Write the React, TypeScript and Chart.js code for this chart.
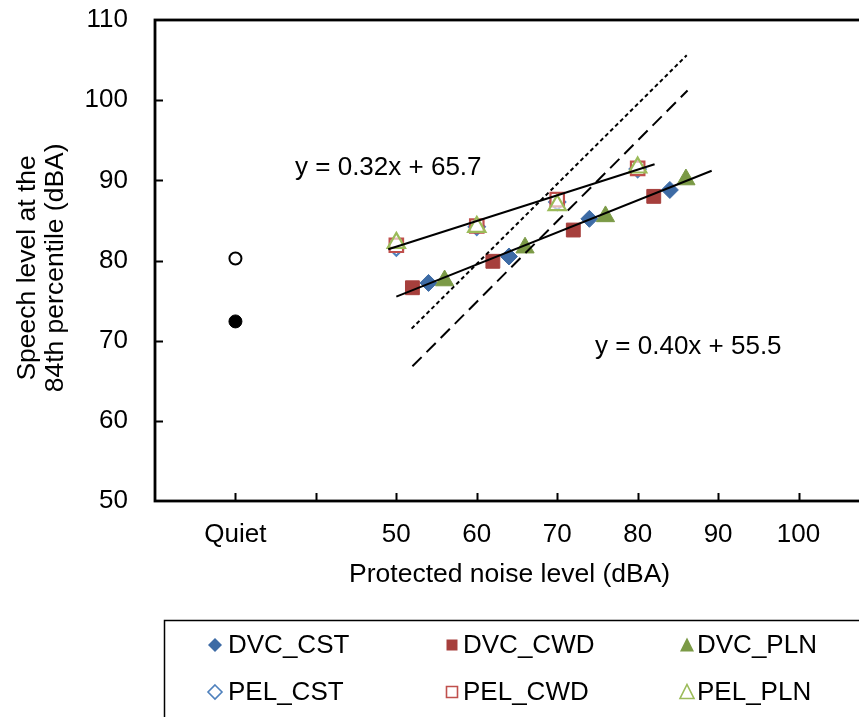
import React, { useEffect, useRef } from 'react';
import { Chart, registerables } from 'chart.js';

Chart.register(...registerables);

// ---- data ----
const dvcCstX = [54, 64, 74, 84];
const dvcCstY = [77.2, 80.5, 85.2, 88.8];
const dvcCwdX = [52, 62, 72, 82];
const dvcCwdY = [76.6, 79.9, 83.8, 88.0];
const dvcPlnX = [56, 66, 76, 86];
const dvcPlnY = [77.5, 81.6, 85.5, 90.1];
const pelX = [50, 60, 70, 80];
const pelCstY = [81.6, 84.2, 87.3, 91.4];
const pelCwdY = [81.9, 84.3, 87.6, 91.5];
const pelPlnY = [82.2, 84.2, 86.9, 91.6];
const quietX = [30];
const quietPelY = [80.25];
const quietDvcY = [72.4];
const pelTrendX = [49, 82.1];
const pelTrendY = [81.4, 92.0];
const dvcTrendX = [50, 89.2];
const dvcTrendY = [75.5, 91.2];
const refDottedX = [51.9, 86.1];
const refDottedY = [71.5, 105.6];
const refDashedX = [52, 86.2];
const refDashedY = [66.8, 101.2];
const pelEquation = 'y = 0.32x + 65.7';
const dvcEquation = 'y = 0.40x + 55.5';
const xTickValues = [30, 50, 60, 70, 80, 90, 100];
const xTickLabels = ['Quiet', '50', '60', '70', '80', '90', '100'];
const legendLabels = ['DVC_CST', 'DVC_CWD', 'DVC_PLN', 'PEL_CST', 'PEL_CWD', 'PEL_PLN'];

const FONT = "'Liberation Sans', Arial, sans-serif";
const BLUE_D = '#3D6BA5';
const RED_D = '#A63F3C';
const GREEN_D = '#7B9A46';
const BLUE_L = '#4F81BD';
const RED_L = '#C0504D';
const GREEN_L = '#9BBB59';

const zip = (xs: number[], ys: number[]) => xs.map((x, i) => ({ x, y: ys[i] }));

function drawMarker(ctx: CanvasRenderingContext2D, kind: string, x: number, y: number, color: string, filled: boolean) {
  ctx.save();
  ctx.beginPath();
  if (kind === 'diamond') {
    const r = 7;
    ctx.moveTo(x, y - r);
    ctx.lineTo(x + r, y);
    ctx.lineTo(x, y + r);
    ctx.lineTo(x - r, y);
    ctx.closePath();
  } else if (kind === 'square') {
    const h = 5.5;
    ctx.rect(x - h, y - h, 2 * h, 2 * h);
  } else {
    const w = 7, h = 13;
    ctx.moveTo(x, y - h / 2 - 1);
    ctx.lineTo(x + w, y + h / 2);
    ctx.lineTo(x - w, y + h / 2);
    ctx.closePath();
  }
  if (filled) {
    ctx.fillStyle = color;
    ctx.fill();
  } else {
    ctx.fillStyle = '#fff';
    ctx.fill();
    ctx.lineWidth = 1.6;
    ctx.strokeStyle = color;
    ctx.stroke();
  }
  ctx.restore();
}

const framePlugin = {
  id: 'frameAndExtras',
  afterDraw(chart: any) {
    const { ctx, chartArea, scales } = chart;
    const xs = scales.x;
    const ys = scales.y;
    ctx.save();
    // frame
    ctx.strokeStyle = '#000';
    ctx.lineWidth = 2.8;
    ctx.strokeRect(chartArea.left, chartArea.top, chartArea.right - chartArea.left, chartArea.bottom - chartArea.top);
    // inside tick marks
    ctx.lineWidth = 2;
    ctx.beginPath();
    xs.ticks.forEach((t: any) => {
      if (t.value <= xs.min || t.value >= xs.max) return;
      const px = Math.round(xs.getPixelForValue(t.value)) + 0.5;
      ctx.moveTo(px, chartArea.bottom);
      ctx.lineTo(px, chartArea.bottom - 8);
    });
    ys.ticks.forEach((t: any) => {
      if (t.value <= ys.min || t.value >= ys.max) return;
      const py = Math.round(ys.getPixelForValue(t.value)) + 0.5;
      ctx.moveTo(chartArea.left, py);
      ctx.lineTo(chartArea.left + 8, py);
    });
    ctx.stroke();
    // equations
    ctx.fillStyle = '#000';
    ctx.font = `26px ${FONT}`;
    ctx.textAlign = 'center';
    ctx.textBaseline = 'middle';
    ctx.fillText(pelEquation, xs.getPixelForValue(49.0), ys.getPixelForValue(91.6));
    ctx.fillText(dvcEquation, xs.getPixelForValue(86.3), ys.getPixelForValue(69.25));
    // legend box
    ctx.lineWidth = 1.5;
    ctx.strokeStyle = '#000';
    ctx.strokeRect(164.5, 620.5, 800, 200);
    const colMarker = [215, 452, 687];
    const colText = [228, 463, 697];
    const rowY = [645, 692];
    const kinds = ['diamond', 'square', 'triangle'];
    const dark = [BLUE_D, RED_D, GREEN_D];
    const light = [BLUE_L, RED_L, GREEN_L];
    ctx.textAlign = 'left';
    legendLabels.forEach((lab, i) => {
      const r = Math.floor(i / 3);
      const c = i % 3;
      drawMarker(ctx, kinds[c], colMarker[c], rowY[r], r === 0 ? dark[c] : light[c], r === 0);
      ctx.fillStyle = '#000';
      ctx.fillText(lab, colText[c], rowY[r] + 1);
    });
    ctx.restore();
  },
};

export default function App() {
  const ref = useRef<HTMLCanvasElement | null>(null);
  useEffect(() => {
    if (!ref.current) return;
    const lineDs = (label: string, xs: number[], ys: number[], dash: number[]) => ({
      label,
      data: zip(xs, ys),
      showLine: true,
      borderColor: '#000',
      borderWidth: 2,
      borderDash: dash,
      pointRadius: 0,
      fill: false,
      order: 0,
    });
    const chart = new Chart(ref.current, {
      type: 'scatter',
      data: {
        datasets: [
          lineDs('PEL trend', pelTrendX, pelTrendY, []),
          lineDs('DVC trend', dvcTrendX, dvcTrendY, []),
          lineDs('ref dotted', refDottedX, refDottedY, [4, 3]),
          lineDs('ref dashed', refDashedX, refDashedY, [13, 7]),
          { label: 'DVC_PLN', data: zip(dvcPlnX, dvcPlnY), pointStyle: 'triangle', pointRadius: 10.5, backgroundColor: GREEN_D, borderColor: GREEN_D, borderWidth: 1, order: 1 },
          { label: 'DVC_CWD', data: zip(dvcCwdX, dvcCwdY), pointStyle: 'rect', pointRadius: 9.8, backgroundColor: RED_D, borderColor: RED_D, borderWidth: 1, order: 2 },
          { label: 'DVC_CST', data: zip(dvcCstX, dvcCstY), pointStyle: 'rectRot', pointRadius: 8.5, backgroundColor: BLUE_D, borderColor: BLUE_D, borderWidth: 1, order: 3 },
          { label: 'PEL_PLN', data: zip(pelX, pelPlnY), pointStyle: 'triangle', pointRadius: 10, backgroundColor: 'rgba(255,255,255,0.6)', borderColor: GREEN_L, borderWidth: 2.2, order: 4 },
          { label: 'PEL_CWD', data: zip(pelX, pelCwdY), pointStyle: 'rect', pointRadius: 9.5, backgroundColor: '#fff', borderColor: RED_L, borderWidth: 2.2, order: 5 },
          { label: 'PEL_CST', data: zip(pelX, pelCstY), pointStyle: 'rectRot', pointRadius: 8, backgroundColor: '#fff', borderColor: BLUE_L, borderWidth: 2.2, order: 6 },
          { label: 'PEL quiet', data: zip(quietX, quietPelY), pointStyle: 'circle', pointRadius: 6, backgroundColor: '#fff', borderColor: '#000', borderWidth: 2, order: 7 },
          { label: 'DVC quiet', data: zip(quietX, quietDvcY), pointStyle: 'circle', pointRadius: 6.5, backgroundColor: '#000', borderColor: '#000', borderWidth: 1, order: 7 },
        ],
      },
      options: {
        responsive: false,
        animation: false,
        layout: { padding: { left: 0, top: 20, right: 21, bottom: 126 } },
        plugins: { legend: { display: false }, tooltip: { enabled: false } },
        scales: {
          x: {
            type: 'linear',
            min: 20,
            max: 110,
            ticks: {
              stepSize: 10,
              autoSkip: false,
              maxRotation: 0,
              padding: 18,
              color: '#000',
              font: { family: FONT, size: 26 },
              callback: (v: any) => {
                const i = xTickValues.indexOf(Number(v));
                return i >= 0 ? xTickLabels[i] : '';
              },
            },
            grid: { display: false, drawTicks: false },
            border: { display: false },
            title: { display: true, text: 'Protected noise level (dBA)  ', color: '#000', font: { family: FONT, size: 26.5, lineHeight: 1.2 }, padding: 0 },
            afterFit: (s: any) => {
              s.height = 90;
              s.paddingLeft = 0;
              s.paddingRight = 0;
            },
          },
          y: {
            type: 'linear',
            min: 50,
            max: 110,
            ticks: { stepSize: 10, padding: 27, color: '#000', font: { family: FONT, size: 26 } },
            grid: { display: false, drawTicks: false },
            border: { display: false },
            title: {
              display: true,
              text: ['Speech level at the  ', '84th percentile (dBA)  '],
              color: '#000',
              font: { family: FONT, size: 26.5, lineHeight: 1.05 },
              padding: { top: 14, bottom: 0 },
            },
            afterFit: (s: any) => {
              s.width = 155;
              s.paddingTop = 0;
              s.paddingBottom = 0;
            },
          },
        },
      },
      plugins: [framePlugin],
    } as any);
    return () => chart.destroy();
  }, []);
  return (
    <div style={{ position: 'fixed', left: 0, top: 0, width: 859, height: 717, overflow: 'hidden', background: '#fff' }}>
      <canvas ref={ref} width={900} height={717} style={{ width: 900, height: 717, display: 'block' }} />
    </div>
  );
}
